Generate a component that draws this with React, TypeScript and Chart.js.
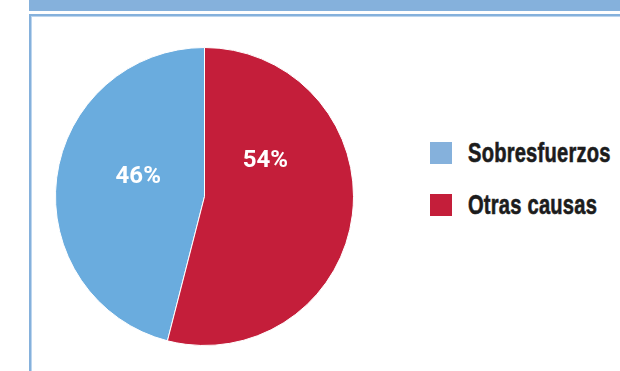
import React, { useEffect, useRef } from "react";
import { Chart, registerables } from "chart.js";

Chart.register(...registerables);

const categories = ["Sobresfuerzos", "Otras causas"];
const values = [46, 54];
const valueLabels = ["46%", "54%"];

const sliceColors = ["#6aacde", "#c41e3a"];
const legendColors = ["#85b1dc", "#c41e3a"];
// label placement (style): angle clockwise from top (deg), radius fraction
const labelAngles = [287, 59];
const labelRadius = [0.465, 0.477];

export default function App() {
  const ref = useRef<HTMLCanvasElement>(null);

  useEffect(() => {
    if (!ref.current) return;
    const total = values.reduce((a, b) => a + b, 0);
    const rotation = (values[1] / total) * 360;

    const labelPlugin = {
      id: "sliceLabels",
      afterDatasetsDraw(chart: any) {
        const meta = chart.getDatasetMeta(0);
        const ctx = chart.ctx;
        ctx.save();
        ctx.fillStyle = "#ffffff";
        ctx.font = "bold 24px Roboto";
        ctx.textAlign = "center";
        ctx.textBaseline = "middle";
        meta.data.forEach((arc: any, i: number) => {
          const { x, y, outerRadius } = arc.getProps(["x", "y", "outerRadius"], true);
          const a = (labelAngles[i] * Math.PI) / 180;
          const r = outerRadius * labelRadius[i];
          ctx.fillText(valueLabels[i], x + Math.sin(a) * r, y - Math.cos(a) * r + 1);
        });
        ctx.restore();
      },
    };

    const chart = new Chart(ref.current, {
      type: "pie",
      data: {
        labels: categories,
        datasets: [
          {
            data: values,
            backgroundColor: sliceColors,
            borderColor: "#ffffff",
            borderWidth: 1,
          },
        ],
      },
      options: {
        responsive: false,
        animation: false,
        rotation,
        layout: { padding: 0 },
        plugins: {
          legend: { display: false },
          tooltip: { enabled: false },
          title: { display: false },
        },
      },
      plugins: [labelPlugin],
    });
    return () => chart.destroy();
  }, []);

  return (
    <div
      style={{
        position: "fixed",
        left: 0,
        top: 0,
        width: 620,
        height: 371,
        overflow: "hidden",
        background: "#ffffff",
      }}
    >
      <div
        style={{
          position: "absolute",
          left: 29,
          top: 0,
          width: 600,
          height: 11,
          background: "#85b1dc",
        }}
      />
      <div
        style={{
          position: "absolute",
          left: 29,
          top: 14,
          width: 620,
          height: 400,
          borderLeft: "2px solid #85b1dc",
          borderTop: "2px solid #85b1dc",
          boxShadow: "inset 1px 1px 0 #bcd5ee",
          boxSizing: "border-box",
        }}
      />
      <canvas
        ref={ref}
        width={299}
        height={299}
        style={{ position: "absolute", left: 55, top: 47, width: 299, height: 299 }}
      />
      {categories.map((c, i) => (
        <div
          key={c}
          style={{
            position: "absolute",
            left: 430,
            top: 142 + i * 52,
            height: 22,
            display: "flex",
            alignItems: "center",
          }}
        >
          <div style={{ width: 22, height: 22, background: legendColors[i] }} />
          <div
            style={{
              marginLeft: 16,
              fontFamily: "'Liberation Sans', Arial, sans-serif",
              fontWeight: "bold",
              fontSize: 27,
              lineHeight: "22px",
              color: "#1c1c1c",
              whiteSpace: "nowrap",
              transform: "scaleX(0.745)",
              transformOrigin: "left center",
              WebkitTextStroke: "0.6px #1c1c1c",
              letterSpacing: "0.3px",
            }}
          >
            {c}
          </div>
        </div>
      ))}
    </div>
  );
}
